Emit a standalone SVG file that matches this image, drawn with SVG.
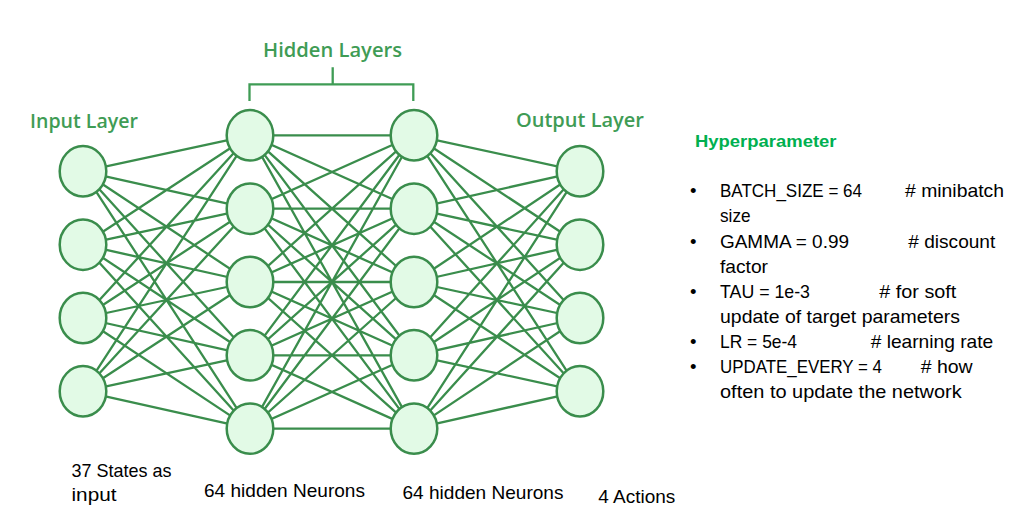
<svg xmlns="http://www.w3.org/2000/svg" width="1017" height="523" viewBox="0 0 1017 523">
<style>
.bg{fill:#ffffff}
.edge{stroke:#3a8d4c;stroke-width:2.3;fill:none}
.node{fill:#e2fae6;stroke:#3a8d4c;stroke-width:2.5}
.lbl{font-family:"Open Sans","Liberation Sans",sans-serif;font-weight:600;font-size:19px;fill:#3f9c55}
.txt{font-family:"Liberation Sans","Open Sans",sans-serif;font-size:18.5px;fill:#000}
.hp{font-family:"Liberation Sans","Open Sans",sans-serif;font-weight:700;font-size:17px;fill:#00b050}
.br{stroke:#3f9c55;stroke-width:2.3;fill:none}
</style>
<rect class="bg" x="0" y="0" width="1017" height="523"/>
<g id="connectors">
<path class="edge" d="M83,171.3L250,135.3M83,171.3L250,208.7M83,171.3L250,282M83,171.3L250,355.3M83,171.3L250,428.6
M83,244.7L250,135.3M83,244.7L250,208.7M83,244.7L250,282M83,244.7L250,355.3M83,244.7L250,428.6
M83,318L250,135.3M83,318L250,208.7M83,318L250,282M83,318L250,355.3M83,318L250,428.6
M83,391.3L250,135.3M83,391.3L250,208.7M83,391.3L250,282M83,391.3L250,355.3M83,391.3L250,428.6"/>
<path class="edge" d="M250,135.3L414,135.3M250,135.3L414,208.7M250,135.3L414,282M250,135.3L414,355.3M250,135.3L414,428.6
M250,208.7L414,135.3M250,208.7L414,208.7M250,208.7L414,282M250,208.7L414,355.3M250,208.7L414,428.6
M250,282L414,135.3M250,282L414,208.7M250,282L414,282M250,282L414,355.3M250,282L414,428.6
M250,355.3L414,135.3M250,355.3L414,208.7M250,355.3L414,282M250,355.3L414,355.3M250,355.3L414,428.6
M250,428.6L414,135.3M250,428.6L414,208.7M250,428.6L414,282M250,428.6L414,355.3M250,428.6L414,428.6"/>
<path class="edge" d="M414,135.3L580,171.3M414,135.3L580,244.7M414,135.3L580,318M414,135.3L580,391.3
M414,208.7L580,171.3M414,208.7L580,244.7M414,208.7L580,318M414,208.7L580,391.3
M414,282L580,171.3M414,282L580,244.7M414,282L580,318M414,282L580,391.3
M414,355.3L580,171.3M414,355.3L580,244.7M414,355.3L580,318M414,355.3L580,391.3
M414,428.6L580,171.3M414,428.6L580,244.7M414,428.6L580,318M414,428.6L580,391.3"/>
</g>
<g id="input-layer">
<ellipse id="in1" class="node" cx="83" cy="171.3" rx="23.3" ry="25.2"/>
<ellipse id="in2" class="node" cx="83" cy="244.7" rx="23.3" ry="25.2"/>
<ellipse id="in3" class="node" cx="83" cy="318" rx="23.3" ry="25.2"/>
<ellipse id="in4" class="node" cx="83" cy="391.3" rx="23.3" ry="25.2"/>
</g>
<g id="hidden-layer-1">
<ellipse id="h1a" class="node" cx="250" cy="135.3" rx="23.3" ry="25.2"/>
<ellipse id="h1b" class="node" cx="250" cy="208.7" rx="23.3" ry="25.2"/>
<ellipse id="h1c" class="node" cx="250" cy="282" rx="23.3" ry="25.2"/>
<ellipse id="h1d" class="node" cx="250" cy="355.3" rx="23.3" ry="25.2"/>
<ellipse id="h1e" class="node" cx="250" cy="428.6" rx="23.3" ry="25.2"/>
</g>
<g id="hidden-layer-2">
<ellipse id="h2a" class="node" cx="414" cy="135.3" rx="23.3" ry="25.2"/>
<ellipse id="h2b" class="node" cx="414" cy="208.7" rx="23.3" ry="25.2"/>
<ellipse id="h2c" class="node" cx="414" cy="282" rx="23.3" ry="25.2"/>
<ellipse id="h2d" class="node" cx="414" cy="355.3" rx="23.3" ry="25.2"/>
<ellipse id="h2e" class="node" cx="414" cy="428.6" rx="23.3" ry="25.2"/>
</g>
<g id="output-layer">
<ellipse id="out1" class="node" cx="580" cy="171.3" rx="23.3" ry="25.2"/>
<ellipse id="out2" class="node" cx="580" cy="244.7" rx="23.3" ry="25.2"/>
<ellipse id="out3" class="node" cx="580" cy="318" rx="23.3" ry="25.2"/>
<ellipse id="out4" class="node" cx="580" cy="391.3" rx="23.3" ry="25.2"/>
</g>
<g id="layer-labels">
<text class="lbl" x="263" y="56.7" textLength="139" lengthAdjust="spacingAndGlyphs">Hidden Layers</text>
<path class="br" d="M249.5,101V84.3H413.3V101M332.7,84.3V67.3"/>
<text class="lbl" x="30" y="127.7" textLength="108" lengthAdjust="spacingAndGlyphs">Input Layer</text>
<text class="lbl" x="516" y="126.9" textLength="128" lengthAdjust="spacingAndGlyphs">Output Layer</text>
</g>
<g id="bottom-labels">
<text class="txt" x="71.5" y="477.3" textLength="100" lengthAdjust="spacingAndGlyphs">37 States as</text>
<text class="txt" x="71.5" y="500.8" textLength="45" lengthAdjust="spacingAndGlyphs">input</text>
<text class="txt" x="204" y="497.3" textLength="161" lengthAdjust="spacingAndGlyphs">64 hidden Neurons</text>
<text class="txt" x="402.5" y="499" textLength="161" lengthAdjust="spacingAndGlyphs">64 hidden Neurons</text>
<text class="txt" x="598.3" y="502.7" textLength="77" lengthAdjust="spacingAndGlyphs">4 Actions</text>
</g>
<g id="hyperparameters">
<text class="hp" x="695" y="147.3" textLength="141.5" lengthAdjust="spacingAndGlyphs">Hyperparameter</text>
<g class="txt">
<text x="690" y="197.3">•</text>
<text x="720" y="197.3" textLength="142" lengthAdjust="spacingAndGlyphs">BATCH_SIZE = 64</text>
<text x="905" y="197.3" textLength="99" lengthAdjust="spacingAndGlyphs"># minibatch</text>
<text x="720" y="221.7" textLength="30.5" lengthAdjust="spacingAndGlyphs">size</text>
<text x="690" y="248.3">•</text>
<text x="720" y="248.3" textLength="129" lengthAdjust="spacingAndGlyphs">GAMMA = 0.99</text>
<text x="908.3" y="248.3" textLength="87" lengthAdjust="spacingAndGlyphs"># discount</text>
<text x="720" y="272.7" textLength="48" lengthAdjust="spacingAndGlyphs">factor</text>
<text x="690" y="298.3">•</text>
<text x="720" y="298.3" textLength="90" lengthAdjust="spacingAndGlyphs">TAU = 1e-3</text>
<text x="879.3" y="298.3" textLength="77" lengthAdjust="spacingAndGlyphs"># for soft</text>
<text x="720" y="323.3" textLength="240" lengthAdjust="spacingAndGlyphs">update of target parameters</text>
<text x="690" y="348.3">•</text>
<text x="720" y="348.3" textLength="77" lengthAdjust="spacingAndGlyphs">LR = 5e-4</text>
<text x="870.7" y="348.3" textLength="122.5" lengthAdjust="spacingAndGlyphs"># learning rate</text>
<text x="690" y="373.3">•</text>
<text x="720" y="373.3" textLength="162" lengthAdjust="spacingAndGlyphs">UPDATE_EVERY = 4</text>
<text x="920.7" y="373.3" textLength="52" lengthAdjust="spacingAndGlyphs"># how</text>
<text x="720" y="398.3" textLength="241.7" lengthAdjust="spacingAndGlyphs">often to update the network</text>
</g>
</g>
</svg>
